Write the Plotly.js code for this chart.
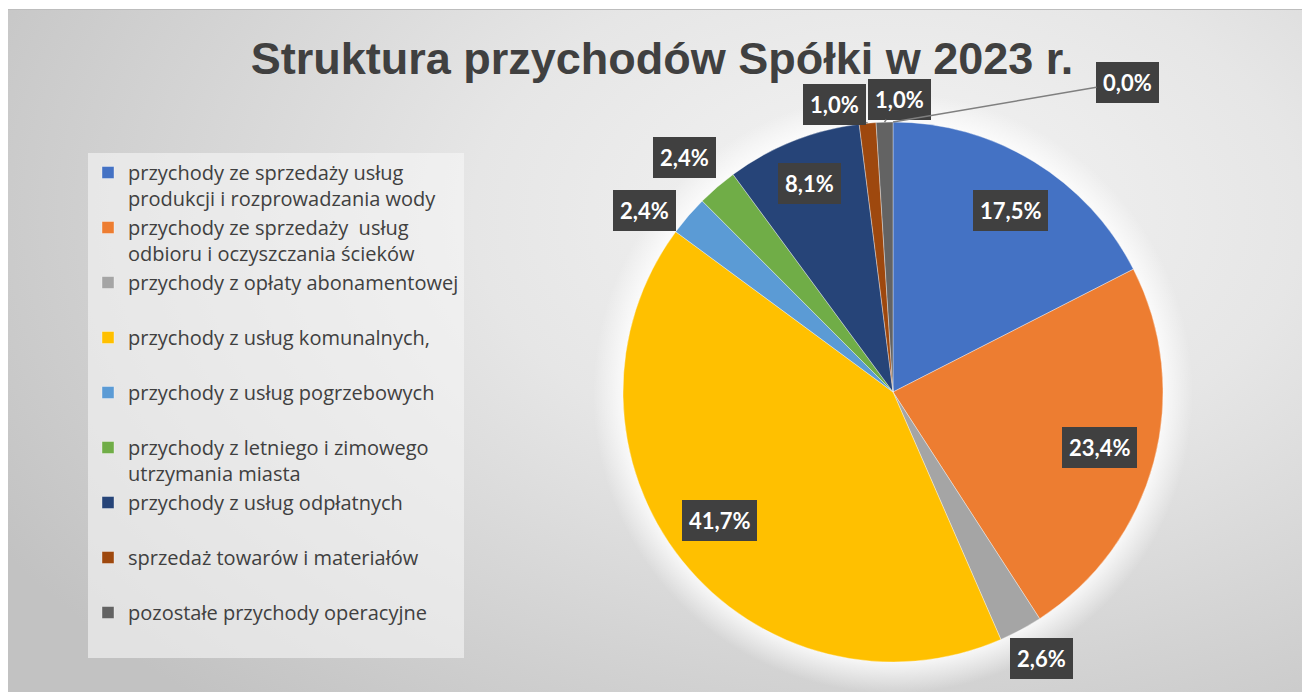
<!DOCTYPE html>
<html><head><meta charset="utf-8">
<script src="https://cdn.plot.ly/plotly-3.0.1.min.js"></script>
<style>
html,body{margin:0;padding:0;background:#fff;}
#wrap{position:relative;width:1309px;height:695px;overflow:hidden;}
#bg{position:absolute;left:8px;top:9px;width:1294px;height:682px;border-top:1px solid #bdbdbd;
background:
 radial-gradient(circle 300px at 885px 383px, rgba(255,255,255,0.85) 0%, rgba(255,255,255,0.85) 89%, rgba(255,255,255,0) 100%),
 radial-gradient(ellipse 80% 95% at 68% 30%, #f4f4f4 0%, #e6e6e6 40%, #c2c2c2 100%);}
#chart{position:absolute;left:0;top:0;width:1309px;height:695px;}
</style></head>
<body>
<div id="wrap"><div id="bg"></div><div id="chart"></div></div>
<script>
// ---- data ----
const categories = [
  'przychody ze sprzedaży usług<br>produkcji i rozprowadzania wody',
  'przychody ze sprzedaży  usług<br>odbioru i oczyszczania ścieków',
  'przychody z opłaty abonamentowej<br> ',
  'przychody z usług komunalnych,<br> ',
  'przychody z usług pogrzebowych<br> ',
  'przychody z letniego i zimowego<br>utrzymania miasta',
  'przychody z usług odpłatnych<br> ',
  'sprzedaż towarów i materiałów<br> ',
  'pozostałe przychody operacyjne<br> '
];
const values = [17.5, 23.4, 2.6, 41.7, 2.4, 2.4, 8.1, 1.0, 1.0];
const zeroValues = [0.0];   // slice with 0,0% shown only as a label
const colors = ['#4472C4','#ED7D31','#A5A5A5','#FFC000','#5B9BD5','#70AD47','#264478','#9E480E','#636363'];
const titleText = 'Struktura przychodów Spółki w 2023 r.';

// ---- layout geometry (pixels) ----
const W = 1309, H = 695;
const cx = 893, cy = 392, R = 270;
// label placement: r = radius factor; da = angle nudge (deg); ax/ay = leader offsets (px)
const labelPlace = [
  {r:0.80, da:1.5},{r:0.79},{r:1.13, da:-1},{r:0.80, da:2},{r:1.14, da:-4.5},{r:1.16, da:-1},{r:0.83},
  {r:1.0, ax:-33, ay:-19},{r:1.0, ax:15, ay:-23}
];
const zeroPlace = [{r:1.0, ax:235, ay:-40}];

const total = values.reduce((a,b)=>a+b,0) + zeroValues.reduce((a,b)=>a+b,0);
const fmt = f => (f*100).toFixed(1).replace('.',',') + '%';
const annotations = [];
function addLabel(frac, cumStart, place){
  const mid = (cumStart + frac/2) * 2 * Math.PI + (place.da||0) * Math.PI/180;
  const px = cx + R*place.r*Math.sin(mid), py = cy - R*place.r*Math.cos(mid);
  const a = {
    x: px/W, y: 1 - py/H, xref:'paper', yref:'paper',
    text: fmt(frac),
    font:{family:'Lato', size:22, color:'#ffffff', weight:700},
    bgcolor:'#404040', borderpad:7, borderwidth:0
  };
  if (place.ax !== undefined) {
    Object.assign(a, {showarrow:true, ax:place.ax, ay:place.ay, arrowhead:0, arrowwidth:1.5, arrowcolor:'#7f7f7f', standoff:0});
  } else {
    Object.assign(a, {showarrow:false, xanchor:'center', yanchor:'middle'});
  }
  annotations.push(a);
}
let cum = 0;
values.forEach((v,i)=>{ const f=v/total; addLabel(f, cum, labelPlace[i]); cum += f; });
zeroValues.forEach((v,i)=>{ const f=v/total; addLabel(f, cum, zeroPlace[i]); cum += f; });

const trace = {
  type:'pie', labels:categories, values:values, sort:false,
  direction:'clockwise', rotation:0, textinfo:'none', hoverinfo:'label+percent',
  marker:{colors:colors, line:{color:'rgba(255,255,255,0.6)', width:0.6}},
  domain:{x:[(cx-R)/W,(cx+R)/W], y:[1-(cy+R)/H, 1-(cy-R)/H]}
};
const layout = {
  width:W, height:H, margin:{l:0,r:0,t:0,b:0},
  paper_bgcolor:'rgba(0,0,0,0)', plot_bgcolor:'rgba(0,0,0,0)',
  title:{text:titleText, font:{family:'Liberation Sans', size:45, color:'#404040', weight:700},
         x:662/W, xanchor:'center', y:1-58/H, yanchor:'middle'},
  showlegend:true,
  legend:{x:88/W, y:1-153/H, xanchor:'left', yanchor:'top', valign:'top',
          bgcolor:'rgba(246,246,246,0.6)', borderwidth:0,
          font:{family:'Open Sans', size:20, color:'#404040'}},
  annotations:annotations
};
Plotly.newPlot('chart', [trace], layout, {displayModeBar:false, staticPlot:true});
</script>
</body></html>
